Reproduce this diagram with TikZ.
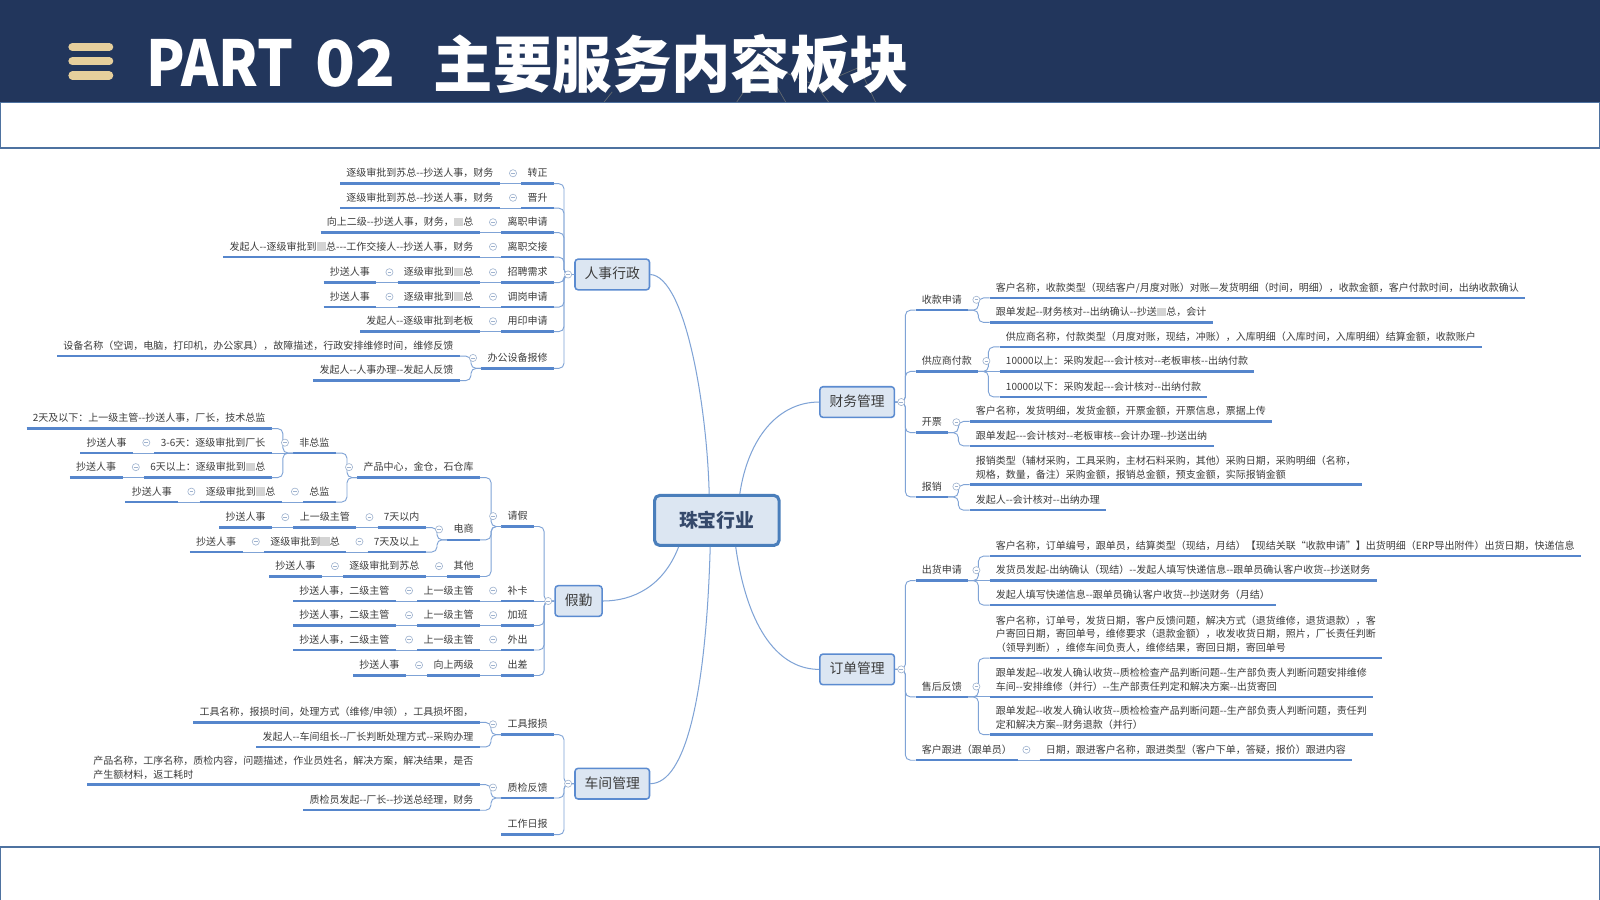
\documentclass[tikz,border=0pt]{standalone}
\usepackage{fontspec}
\usepackage{graphicx}
\newfontfamily\cn{Noto Sans CJK SC}
\usetikzlibrary{calc}
\definecolor{navy}{HTML}{22365C}
\definecolor{gold}{HTML}{E6CF9C}
\definecolor{framec}{HTML}{4E72A0}
\definecolor{ulc}{HTML}{5686CC}
\definecolor{treec}{HTML}{7FA3D6}
\definecolor{togc}{HTML}{9FB3CF}
\definecolor{boxfill}{HTML}{DCE6F2}
\definecolor{boxdraw}{HTML}{5B8BD0}
\definecolor{ctrdraw}{HTML}{4A7EBB}
\definecolor{txtc}{HTML}{3C3C3C}
\definecolor{ctrtxt}{HTML}{35496B}
\definecolor{blurc}{HTML}{D4D4D4}
\definecolor{decoc}{HTML}{8C8A7A}
\newcommand\blur{\textcolor{blurc}{\rule[-0.05em]{0.95em}{0.85em}}}
\tikzset{
  basetxt/.style={font=\cn\fontsize{9.8}{13.6}\selectfont, text=txtc},
  uline/.style={draw=ulc, line width=2.4pt},
  lv/.style={basetxt, inner xsep=6pt, inner ysep=5pt, text height=8.5pt, text depth=1.5pt,
    append after command={(\tikzlastnode.south west) edge[uline] (\tikzlastnode.south east)}},
  ml/.style={basetxt, inner xsep=6pt, inner ysep=5pt, align=left,
    append after command={(\tikzlastnode.south west) edge[uline] (\tikzlastnode.south east)}},
  tree/.style={draw=treec, line width=0.9pt, rounded corners=5pt},
  trunk/.style={draw=treec, line width=1pt},
  lone/.style={draw=boxdraw, fill=boxfill, line width=1.5pt, rounded corners=3pt,
    font=\cn\fontsize{13.5}{16}\selectfont, text=txtc, inner xsep=9.5pt, inner ysep=0pt,
    minimum height=30pt, text height=10.5pt, text depth=2pt},
  ctr/.style={draw=ctrdraw, fill=boxfill, line width=3pt, rounded corners=5pt,
    minimum width=122pt, minimum height=49pt, text=ctrtxt,
    font=\cn\bfseries\fontsize{18.5}{20}\selectfont},
  tog/.style={circle, draw=togc, fill=white, line width=0.6pt, minimum size=7pt, inner sep=0pt,
    path picture={\draw[togc, line width=0.6pt] ([xshift=-1.8pt]path picture bounding box.center) -- ([xshift=1.8pt]path picture bounding box.center);}},
  deco/.style={draw=decoc, line width=0.7pt, opacity=0.6},
}
% node makers
\newcommand\mkLc[4]{\node[lv, anchor=south east, xshift=-21pt] (#1) at (#2.south west |- 0,#3) {#4};}
\newcommand\mkRc[4]{\node[lv, anchor=south west, xshift=21pt] (#1) at (#2.south east |- 0,#3) {#4};}
\newcommand\mkLm[4]{\node[ml, anchor=south east, xshift=-21pt] (#1) at (#2.south west |- 0,#3) {#4};}
\newcommand\mkRm[4]{\node[ml, anchor=south west, xshift=21pt] (#1) at (#2.south east |- 0,#3) {#4};}
\newcommand\mkLB[4]{\node[lv, anchor=south east, xshift=-20pt] (#1) at (#2.west |- 0,#3) {#4};}
\newcommand\mkRB[4]{\node[lv, anchor=south west, xshift=20pt] (#1) at (#2.east |- 0,#3) {#4};}
% links
\newcommand\lkL[2]{\draw[tree] (#1.south west) -- ++(-10pt,0pt) |- (#2.south east);}
\newcommand\lkLs[2]{\draw[tree] (#1.south west) -- (#2.south east);}
\newcommand\lkR[2]{\draw[tree] (#1.south east) -- ++(10pt,0pt) |- (#2.south west);}
\newcommand\lkRs[2]{\draw[tree] (#1.south east) -- (#2.south west);}
\newcommand\lkLB[2]{\draw[tree] (#1.west) -- ++(-10pt,0pt) |- (#2.south east);}
\newcommand\lkRB[2]{\draw[tree] (#1.east) -- ++(10pt,0pt) |- (#2.south west);}
% toggles
\newcommand\tgL[1]{\node[tog] (t#1) at ([xshift=-8pt]#1.west) {};}
\newcommand\tgR[1]{\node[tog] (t#1) at ([xshift=8pt]#1.east) {};}
\newcommand\tgLB[1]{\node[tog] (t#1) at ([xshift=-6pt]#1.west) {};}
\newcommand\tgRB[1]{\node[tog] (t#1) at ([xshift=6pt]#1.east) {};}
\begin{document}
\begin{tikzpicture}[x=1pt, y=-1pt]
\useasboundingbox (0,0) rectangle (1568,882);
\fill[white] (0,0) rectangle (1568,882);
% header
\fill[navy] (0,0) rectangle (1568,100);
% faint decorative lines behind the title
\draw[deco] (592,100) -- (600,90) (722,100) -- (748,62) -- (770,100) (748,62) -- (800,84) -- (842,66) -- (858,100) (800,84) -- (812,100);
\foreach \yy in {46,60,74} \draw[gold, line width=8pt, line cap=round] (71,\yy) -- (107,\yy);
\node[anchor=base west, text=white, inner sep=0pt] (ttl1) at (143,85) {\cn\bfseries\fontsize{62}{62}\selectfont\scalebox{0.89}[1]{PART}\hspace{22pt}\scalebox{1.04}[1]{02}};
\node[anchor=base west, text=white, inner sep=0pt] (ttl2) at (425,86) {\cn\bfseries\fontsize{60}{60}\selectfont\scalebox{0.97}[1]{主要服务内容板块}};
% frames
\draw[framec, line width=1pt] (0.5,100.5) rectangle (1567.5,145);
\draw[framec, line width=2pt] (0,145) -- (1568,145);
\draw[framec, line width=1pt] (0.5,882) -- (0.5,830) (1567.5,830) -- (1567.5,882);
\draw[framec, line width=2.5pt] (0,830) -- (1568,830);

% main nodes
\node[ctr] (zb) at (702.5,510) {珠宝行业};
\node[lone] (hr) at (600,269) {人事行政};
\node[lone] (jq) at (567,589) {假勤};
\node[lone] (cj) at (600,768) {车间管理};
\node[lone] (cw) at (840,394) {财务管理};
\node[lone] (dd) at (840,656) {订单管理};

% ---- 人事行政
\mkLB{hr1}{hr}{180}{转正}
\mkLc{hr1a}{hr1}{180}{逐级审批到苏总--抄送人事，财务}
\mkLB{hr2}{hr}{204}{晋升}
\mkLc{hr2a}{hr2}{204}{逐级审批到苏总--抄送人事，财务}
\mkLB{hr3}{hr}{228}{离职申请}
\mkLc{hr3a}{hr3}{228}{向上二级--抄送人事，财务，\blur 总}
\mkLB{hr4}{hr}{252}{离职交接}
\mkLc{hr4a}{hr4}{252}{发起人--逐级审批到\blur 总---工作交接人--抄送人事，财务}
\mkLB{hr5}{hr}{277}{招聘需求}
\mkLc{hr5a}{hr5}{277}{逐级审批到\blur 总}
\mkLc{hr5b}{hr5a}{277}{抄送人事}
\mkLB{hr6}{hr}{301}{调岗申请}
\mkLc{hr6a}{hr6}{301}{逐级审批到\blur 总}
\mkLc{hr6b}{hr6a}{301}{抄送人事}
\mkLB{hr7}{hr}{325}{用印申请}
\mkLc{hr7a}{hr7}{325}{发起人--逐级审批到老板}
\mkLB{hr8}{hr}{361}{办公设备报修}
\mkLc{hr8a}{hr8}{349}{设备名称（空调，电脑，打印机，办公家具），故障描述，行政安排维修时间，维修反馈}
\mkLc{hr8b}{hr8}{373}{发起人--人事办理--发起人反馈}

% ---- 假勤
\mkLB{jq1}{jq}{516}{请假}
\mkLc{jq1a}{jq1}{468}{产品中心，金仓，石仓库}
\mkLc{jq1a1}{jq1a}{444}{非总监}
\mkLc{jq1a1a}{jq1a1}{420}{2天及以下：上一级主管--抄送人事，厂长，技术总监}
\mkLc{jq1a1b}{jq1a1}{444}{3-6天：逐级审批到厂长}
\mkLc{jq1a1b1}{jq1a1b}{444}{抄送人事}
\mkLc{jq1a1c}{jq1a1}{468}{6天以上：逐级审批到\blur 总}
\mkLc{jq1a1c1}{jq1a1c}{468}{抄送人事}
\mkLc{jq1a2}{jq1a}{492}{总监}
\mkLc{jq1a2a}{jq1a2}{492}{逐级审批到\blur 总}
\mkLc{jq1a2b}{jq1a2a}{492}{抄送人事}
\mkLc{jq1b}{jq1}{529}{电商}
\mkLc{jq1b1}{jq1b}{517}{7天以内}
\mkLc{jq1b1a}{jq1b1}{517}{上一级主管}
\mkLc{jq1b1b}{jq1b1a}{517}{抄送人事}
\mkLc{jq1b2}{jq1b}{541}{7天及以上}
\mkLc{jq1b2a}{jq1b2}{541}{逐级审批到\blur 总}
\mkLc{jq1b2b}{jq1b2a}{541}{抄送人事}
\mkLc{jq1c}{jq1}{565}{其他}
\mkLc{jq1c1}{jq1c}{565}{逐级审批到苏总}
\mkLc{jq1c2}{jq1c1}{565}{抄送人事}
\mkLB{jq2}{jq}{589}{补卡}
\mkLc{jq2a}{jq2}{589}{上一级主管}
\mkLc{jq2b}{jq2a}{589}{抄送人事，二级主管}
\mkLB{jq3}{jq}{613}{加班}
\mkLc{jq3a}{jq3}{613}{上一级主管}
\mkLc{jq3b}{jq3a}{613}{抄送人事，二级主管}
\mkLB{jq4}{jq}{637}{外出}
\mkLc{jq4a}{jq4}{637}{上一级主管}
\mkLc{jq4b}{jq4a}{637}{抄送人事，二级主管}
\mkLB{jq5}{jq}{662}{出差}
\mkLc{jq5a}{jq5}{662}{向上两级}
\mkLc{jq5b}{jq5a}{662}{抄送人事}

% ---- 车间管理
\mkLB{cj1}{cj}{720}{工具报损}
\mkLc{cj1a}{cj1}{708}{工具名称，报损时间，处理方式（维修/申领），工具损坏图，}
\mkLc{cj1b}{cj1}{732}{发起人--车间组长--厂长判断处理方式--采购办理}
\mkLB{cj2}{cj}{782}{质检反馈}
\mkLm{cj2a}{cj2}{769}{产品名称，工序名称，质检内容，问题描述，作业员姓名，解决方案，解决结果，是否\\产生额材料，返工耗时}
\mkLc{cj2b}{cj2}{794}{质检员发起--厂长--抄送总经理，财务}
\mkLB{cj3}{cj}{818}{工作日报}

% ---- 财务管理
\mkRB{cw1}{cw}{304}{收款申请}
\mkRc{cw1a}{cw1}{292}{客户名称，收款类型（现结客户/月度对账）对账—发货明细（时间，明细），收款金额，客户付款时间，出纳收款确认}
\mkRc{cw1b}{cw1}{316}{跟单发起--财务核对--出纳确认--抄送\blur 总，会计}
\mkRB{cw2}{cw}{364}{供应商付款}
\mkRc{cw2a}{cw2}{340}{供应商名称，付款类型（月度对账，现结，冲账），入库明细（入库时间，入库明细）结算金额，收款账户}
\mkRc{cw2b}{cw2}{364}{10000以上：采购发起---会计核对--老板审核--出纳付款}
\mkRc{cw2c}{cw2}{389}{10000以下：采购发起---会计核对--出纳付款}
\mkRB{cw3}{cw}{424}{开票}
\mkRc{cw3a}{cw3}{413}{客户名称，发货明细，发货金额，开票金额，开票信息，票据上传}
\mkRc{cw3b}{cw3}{437}{跟单发起---会计核对--老板审核--会计办理--抄送出纳}
\mkRB{cw4}{cw}{487}{报销}
\mkRm{cw4a}{cw4}{475}{报销类型（辅材采购，工具采购，主材石料采购，其他）采购日期，采购明细（名称，\\规格，数量，备注）采购金额，报销总金额，预支金额，实际报销金额}
\mkRc{cw4b}{cw4}{500}{发起人--会计核对--出纳办理}

% ---- 订单管理
\mkRB{dd1}{dd}{569}{出货申请}
\mkRc{dd1a}{dd1}{545}{客户名称，订单编号，跟单员，结算类型（现结，月结）【现结关联“收款申请”】出货明细（ERP导出附件）出货日期，快递信息}
\mkRc{dd1b}{dd1}{569}{发货员发起-出纳确认（现结）--发起人填写快递信息--跟单员确认客户收货--抄送财务}
\mkRc{dd1c}{dd1}{593}{发起人填写快递信息--跟单员确认客户收货--抄送财务（月结）}
\mkRB{dd2}{dd}{683}{售后反馈}
\mkRm{dd2a}{dd2}{645}{客户名称，订单号，发货日期，客户反馈问题，解决方式（退货维修，退货退款），客\\户寄回日期，寄回单号，维修要求（退款金额），收发收货日期，照片，厂长责任判断\\（领导判断），维修车间负责人，维修结果，寄回日期，寄回单号}
\mkRm{dd2b}{dd2}{683}{跟单发起--收发人确认收货--质检检查产品判断问题--生产部负责人判断问题安排维修\\车间--安排维修（并行）--生产部责任判定和解决方案--出货寄回}
\mkRm{dd2c}{dd2}{720}{跟单发起--收发人确认收货--质检检查产品判断问题--生产部负责人判断问题，责任判\\定和解决方案--财务退款（并行）}
\mkRB{dd3}{dd}{745}{客户跟进（跟单员）}
\mkRc{dd3a}{dd3}{745}{日期，跟进客户名称，跟进类型（客户下单，答疑，报价）跟进内容}

% ---- trunk curves
\draw[trunk] (hr.east) .. controls (672,271) and (693,400) .. ([xshift=-7.5pt]zb.north);
\draw[trunk] ([xshift=22.5pt]zb.north) .. controls (733,430) and (762,394) .. (cw.west);
\draw[trunk] ([xshift=-37.5pt]zb.south) .. controls (650,575) and (620,589) .. (jq.east);
\draw[trunk] ([xshift=-6.5pt]zb.south) .. controls (692,680) and (672,768) .. (cj.east);
\draw[trunk] ([xshift=18.5pt]zb.south) .. controls (733,620) and (765,656) .. (dd.west);

% ---- links 人事行政
\foreach \c in {hr1,hr2,hr3,hr4,hr5,hr6,hr7,hr8} {\lkLB{hr}{\c}}
\lkLs{hr1}{hr1a} \lkLs{hr2}{hr2a} \lkLs{hr3}{hr3a} \lkLs{hr4}{hr4a}
\lkLs{hr5}{hr5a} \lkLs{hr5a}{hr5b} \lkLs{hr6}{hr6a} \lkLs{hr6a}{hr6b}
\lkLs{hr7}{hr7a} \lkL{hr8}{hr8a} \lkL{hr8}{hr8b}
% links 假勤
\lkLB{jq}{jq1} \draw[tree] (jq.west) -- (jq2.south east);
\lkLB{jq}{jq3} \lkLB{jq}{jq4} \lkLB{jq}{jq5}
\lkL{jq1}{jq1a} \lkL{jq1}{jq1b} \lkL{jq1}{jq1c}
\lkL{jq1a}{jq1a1} \lkL{jq1a}{jq1a2}
\lkL{jq1a1}{jq1a1a} \lkLs{jq1a1}{jq1a1b} \lkL{jq1a1}{jq1a1c}
\lkLs{jq1a1b}{jq1a1b1} \lkLs{jq1a1c}{jq1a1c1}
\lkLs{jq1a2}{jq1a2a} \lkLs{jq1a2a}{jq1a2b}
\lkL{jq1b}{jq1b1} \lkL{jq1b}{jq1b2}
\lkLs{jq1b1}{jq1b1a} \lkLs{jq1b1a}{jq1b1b} \lkLs{jq1b2}{jq1b2a} \lkLs{jq1b2a}{jq1b2b}
\lkLs{jq1c}{jq1c1} \lkLs{jq1c1}{jq1c2}
\lkLs{jq2}{jq2a} \lkLs{jq2a}{jq2b} \lkLs{jq3}{jq3a} \lkLs{jq3a}{jq3b}
\lkLs{jq4}{jq4a} \lkLs{jq4a}{jq4b} \lkLs{jq5}{jq5a} \lkLs{jq5a}{jq5b}
% links 车间管理
\lkLB{cj}{cj1} \lkLB{cj}{cj2} \lkLB{cj}{cj3}
\lkL{cj1}{cj1a} \lkL{cj1}{cj1b} \lkL{cj2}{cj2a} \lkL{cj2}{cj2b}
% links 财务管理
\lkRB{cw}{cw1} \lkRB{cw}{cw2} \lkRB{cw}{cw3} \lkRB{cw}{cw4}
\lkR{cw1}{cw1a} \lkR{cw1}{cw1b}
\lkR{cw2}{cw2a} \lkRs{cw2}{cw2b} \lkR{cw2}{cw2c}
\lkR{cw3}{cw3a} \lkR{cw3}{cw3b}
\lkR{cw4}{cw4a} \lkR{cw4}{cw4b}
% links 订单管理
\lkRB{dd}{dd1} \lkRB{dd}{dd2} \lkRB{dd}{dd3}
\lkR{dd1}{dd1a} \lkRs{dd1}{dd1b} \lkR{dd1}{dd1c}
\lkR{dd2}{dd2a} \lkRs{dd2}{dd2b} \lkR{dd2}{dd2c}
\lkRs{dd3}{dd3a}

% ---- toggles
\tgLB{hr} \tgLB{jq} \tgLB{cj} \tgRB{cw} \tgRB{dd}
\foreach \n in {hr1,hr2,hr3,hr4,hr5,hr5a,hr6,hr6a,hr7,hr8,
  jq1,jq1a,jq1a1,jq1a1b,jq1a1c,jq1a2,jq1a2a,jq1b,jq1b1,jq1b1a,jq1b2,jq1b2a,jq1c,jq1c1,
  jq2,jq2a,jq3,jq3a,jq4,jq4a,jq5,jq5a,cj1,cj2} {\tgL{\n}}
\foreach \n in {cw1,cw2,cw3,cw4,dd1,dd2,dd3} {\tgR{\n}}
\end{tikzpicture}
\end{document}
